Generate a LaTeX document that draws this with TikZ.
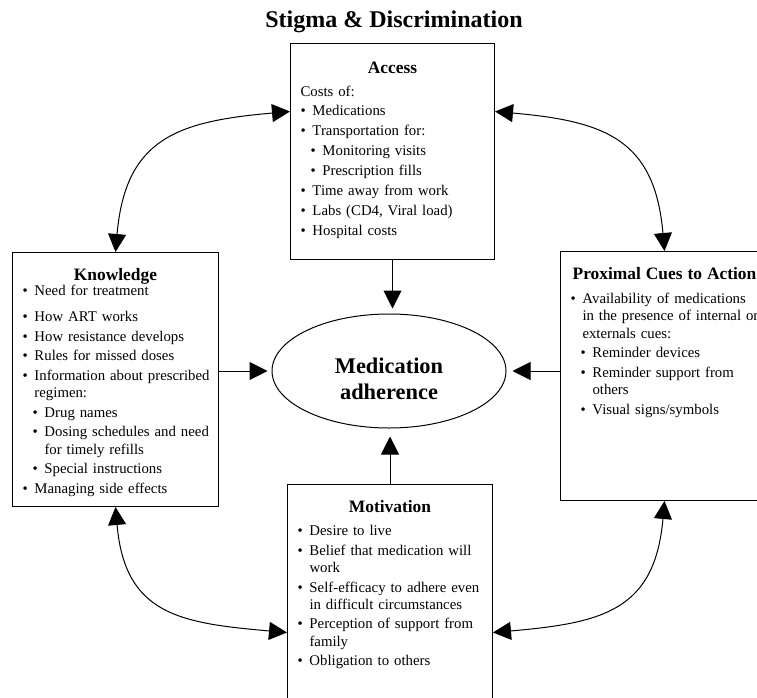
\documentclass[tikz,border=0pt]{standalone}
\usepackage{fontspec}
\setmainfont{Liberation Serif}
\usetikzlibrary{arrows.meta,shapes.geometric}
\newcommand{\bul}[1]{\mbox{\makebox[12pt][l]{\textbullet}#1}}
\newcommand{\hd}[1]{\makebox[\linewidth]{\fontsize{17.4}{17.3}\selectfont\bfseries #1}}
\begin{document}
\begin{tikzpicture}[x=1pt, y=1pt,
  box/.style={draw, rectangle, anchor=north west, line width=1pt,
    inner xsep=10pt, inner ysep=0pt, align=left,
    font={\fontsize{14.8}{17.3}\selectfont}},
  arr/.style={-{Triangle[length=18pt,width=18pt]}, line width=1pt},
  duo/.style={{Triangle[length=18pt,width=18pt]}-{Triangle[length=18pt,width=18pt]},
    line width=1pt, looseness=1.3}]
  \useasboundingbox (0,0) rectangle (757,-698);
  \clip (0,0) rectangle (757,-698);
  \node (stg)   at (394,-28) [anchor=base,
                font={\fontsize{24}{28}\selectfont\bfseries}]
                {Stigma \& Discrimination};
  \node (acc)   at (290,-43) [box, text width=184pt,
                text height=30pt, text depth=186pt]
                {\hd{Access}\\[5.7pt]
                 Costs of:\\[1.7pt]
                 \bul{Medications}\\[2.7pt]
                 \bul{Transportation for:}\\[2.7pt]
                 \hspace*{10pt}\bul{Monitoring visits}\\[2.7pt]
                 \hspace*{10pt}\bul{Prescription fills}\\[2.7pt]
                 \bul{Time away from work}\\[2.7pt]
                 \bul{Labs (CD4, Viral load)}\\[2.7pt]
                 \bul{Hospital costs}};
  \node (kno)   at (12,-252) [box, text width=186pt,
                text height=28pt, text depth=226pt]
                {\hd{Knowledge}\\[-2.3pt]
                 \bul{Need for treatment}\\[8.7pt]
                 \bul{How ART works}\\[2.3pt]
                 \bul{How resistance develops}\\[2.3pt]
                 \bul{Rules for missed doses}\\[2.3pt]
                 \bul{Information about prescribed}\\
                 \hspace*{12pt}\mbox{regimen:}\\[2.3pt]
                 \hspace*{10pt}\bul{Drug names}\\[2.3pt]
                 \hspace*{10pt}\bul{Dosing schedules and need}\\
                 \hspace*{22pt}\mbox{for timely refills}\\[2.3pt]
                 \hspace*{10pt}\bul{Special instructions}\\[2.3pt]
                 \bul{Managing side effects}};
  \node (cue)   at (560,-251) [box, text width=188pt,
                text height=28pt, text depth=221pt]
                {\hd{Proximal Cues to Action}\\[6.7pt]
                 \bul{Availability of medications}\\
                 \hspace*{12pt}\mbox{in the presence of internal or}\\
                 \hspace*{12pt}\mbox{externals cues:}\\[2.3pt]
                 \hspace*{10pt}\bul{Reminder devices}\\[2.3pt]
                 \hspace*{10pt}\bul{Reminder support from}\\
                 \hspace*{22pt}\mbox{others}\\[2.3pt]
                 \hspace*{10pt}\bul{Visual signs/symbols}};
  \node (mot)   at (287,-484) [box, text width=185pt,
                text height=28pt, text depth=208pt]
                {\hd{Motivation}\\[5.7pt]
                 \bul{Desire to live}\\[2.3pt]
                 \bul{Belief that medication will}\\
                 \hspace*{12pt}\mbox{work}\\[2.3pt]
                 \bul{Self-efficacy to adhere even}\\
                 \hspace*{12pt}\mbox{in difficult circumstances}\\[2.3pt]
                 \bul{Perception of support from}\\
                 \hspace*{12pt}\mbox{family}\\[2.3pt]
                 \bul{Obligation to others}};
  \node (adh)   at (389,-371) [draw, ellipse, line width=1pt,
                minimum width=234pt, minimum height=114pt, inner sep=0pt,
                text width=120pt, align=center, text height=30pt, text depth=26pt,
                font={\fontsize{22.4}{26}\selectfont\bfseries}]
                {Medication\\adherence};
  \draw[arr, shorten >=5pt] (acc.south) -- (acc.south |- adh.north);
  \draw[arr, shorten >=4pt] (kno.east |- adh.west) -- (adh.west);
  \draw[arr, shorten >=6pt] (cue.west |- adh.east) -- (adh.east);
  \draw[arr, shorten >=8pt] (mot.north) -- (mot.north |- adh.south);
  \draw[duo] (kno.north) to[out=85, in=185] ([yshift=40pt]acc.west);
  \draw[duo] ([yshift=40pt]acc.east) to[out=-5, in=95] (cue.north);
  \draw[duo] (kno.south) to[out=-85, in=175] ([yshift=-30pt]mot.west);
  \draw[duo] (cue.south) to[out=-95, in=5] ([yshift=-30pt]mot.east);
\end{tikzpicture}
\end{document}
